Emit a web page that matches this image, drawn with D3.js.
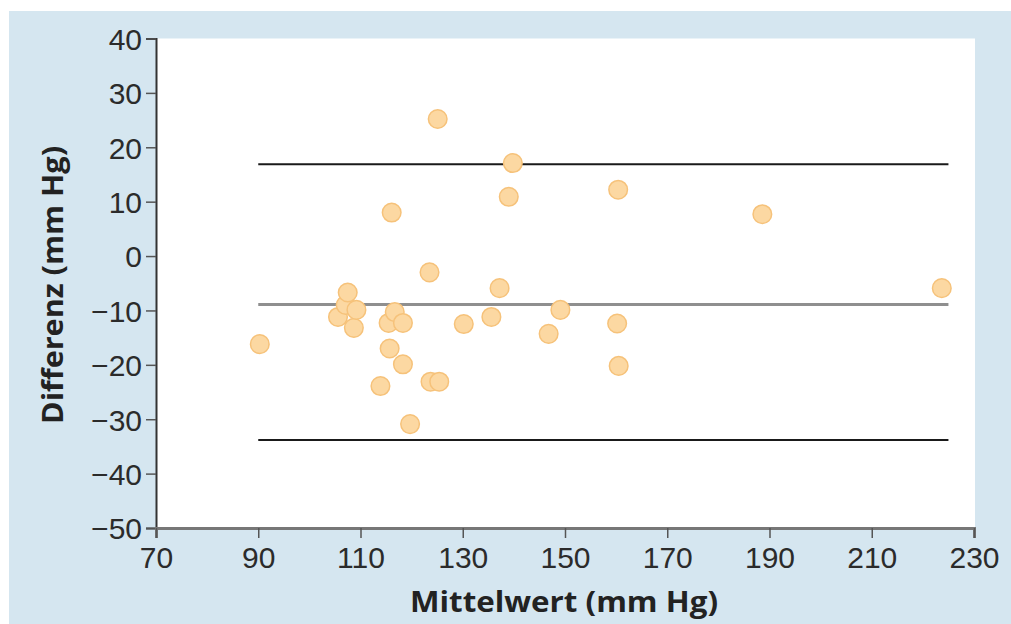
<!DOCTYPE html>
<html lang="de">
<head>
<meta charset="utf-8" />
<title>Bland-Altman Diagramm</title>
<style>
html, body {
  margin: 0;
  padding: 0;
  background: #fff;
}
svg {
  display: block;
  font-family: "Open Sans", "DejaVu Sans", sans-serif;
}
.tick text {
  fill: #2b2b2b;
}
.axisTitle {
  font-weight: bold;
  fill: #222;
}
</style>
</head>
<body>
<svg id="chart" width="1011" height="624"></svg>

<script src="https://cdnjs.cloudflare.com/ajax/libs/d3/7.8.5/d3.min.js"></script>
<script>

// Mittelwert (x) und Differenz (y) der Messpaare
var mittelwert = [90.3, 105.6, 107.1, 107.5, 108.7, 109.2, 113.9, 115.5, 115.7, 116.1,
                  116.7, 118.3, 118.3, 119.7, 123.5, 123.7, 125.1, 125.4, 130.2, 135.6,
                  137.2, 139.0, 139.8, 146.8, 149.1, 160.2, 160.4, 160.5, 188.6, 223.7];
var differenz  = [-16.2, -11.2, -9.0, -6.7, -13.2, -9.9, -23.9, -12.3, -17.0, 8.0,
                  -10.3, -12.3, -19.9, -30.9, -3.0, -23.1, 25.2, -23.1, -12.5, -11.2,
                  -5.9, 10.9, 17.1, -14.3, -9.9, -12.4, 12.2, -20.2, 7.7, -5.9];

// Mittelwert der Differenz und Übereinstimmungsgrenzen
var grenzen = [16.9, -8.9, -33.8];
var grenzFarbe = ["#1a1a1a", "#8f8f8f", "#1a1a1a"];
var grenzBreite = [2, 3, 2];
var linienVon = 90, linienBis = 225;

var xTicks = [70, 90, 110, 130, 150, 170, 190, 210, 230];
var yTicks = [40, 30, 20, 10, 0, -10, -20, -30, -40, -50];

var svg = d3.select("#chart");

// hellblauer Kasten
svg.append("rect")
  .attr("x", 9).attr("y", 11)
  .attr("width", 1002).attr("height", 613)
  .attr("fill", "#d5e6f0");

var x = d3.scaleLinear().domain([70, 230]).range([156, 974]);
var y = d3.scaleLinear().domain([-50, 40]).range([528, 38.5]);

// weiße Plotfläche
svg.append("rect")
  .attr("x", x(70)).attr("y", y(40))
  .attr("width", 975 - x(70)).attr("height", y(-50) - y(40))
  .attr("fill", "#fff");

// Grenzlinien
svg.selectAll(".grenze")
  .data(grenzen)
  .enter()
  .append("line")
  .attr("class", "grenze")
  .attr("x1", x(linienVon))
  .attr("x2", x(linienBis))
  .attr("y1", function(d) { return y(d); })
  .attr("y2", function(d) { return y(d); })
  .attr("stroke", function(d, i) { return grenzFarbe[i]; })
  .attr("stroke-width", function(d, i) { return grenzBreite[i]; });

// Punkte
var punkte = mittelwert.map(function(m, i) { return { x: m, y: differenz[i] }; });

svg.append("g")
  .selectAll("circle")
  .data(punkte)
  .enter()
  .append("circle")
  .attr("cx", function(d) { return x(d.x); })
  .attr("cy", function(d) { return y(d.y); })
  .attr("r", 9.3)
  .attr("fill", "#fcd8a2")
  .attr("stroke", "#f6c27a")
  .attr("stroke-width", 1.5);

function minus(d) {
  return d < 0 ? "\u2212" + Math.abs(d) : String(d);
}

// y-Achse
var yAxis = svg.append("g")
  .attr("transform", "translate(" + x(70) + ",0)")
  .call(d3.axisLeft(y).tickValues(yTicks).tickFormat(minus).tickSize(10).tickPadding(4));
yAxis.select(".domain").attr("stroke", "#333").attr("stroke-width", 2);
yAxis.selectAll(".tick line").attr("stroke", "#555").attr("stroke-width", 1.5);
yAxis.selectAll(".tick text").attr("font-size", 30).attr("dy", "0.36em");

// x-Achse
var xAxis = svg.append("g")
  .attr("transform", "translate(0," + y(-50) + ")")
  .call(d3.axisBottom(x).tickValues(xTicks).tickSize(10).tickPadding(8));
xAxis.select(".domain").attr("stroke", "#777").attr("stroke-width", 3);
xAxis.selectAll(".tick line").attr("stroke", "#555").attr("stroke-width", 1.5);
xAxis.selectAll(".tick text").attr("font-size", 30).attr("dy", "0.72em");

// Achsentitel
svg.append("text")
  .attr("class", "axisTitle")
  .attr("x", 564).attr("y", 612)
  .attr("text-anchor", "middle")
  .attr("font-size", 28)
  .attr("textLength", 308)
  .attr("lengthAdjust", "spacingAndGlyphs")
  .text("Mittelwert (mm Hg)");

svg.append("text")
  .attr("class", "axisTitle")
  .attr("transform", "translate(63,285) rotate(-90)")
  .attr("text-anchor", "middle")
  .attr("font-size", 28)
  .attr("textLength", 278)
  .attr("lengthAdjust", "spacingAndGlyphs")
  .text("Differenz (mm Hg)");

</script>
</body>
</html>
